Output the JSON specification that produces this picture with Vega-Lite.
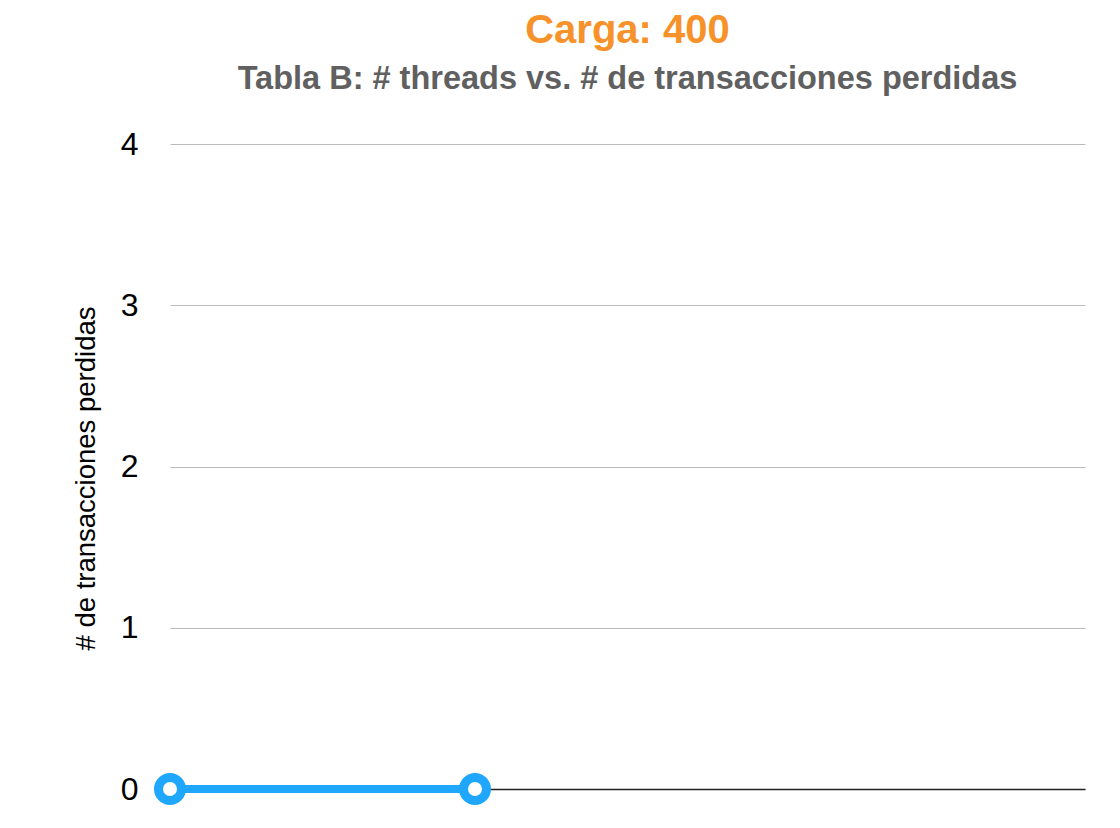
{
  "$schema": "https://vega.github.io/schema/vega-lite/v6.json",
  "width": 915,
  "height": 645,
  "autosize": {"type": "none"},
  "padding": {"left": 170, "top": 144, "right": 35, "bottom": 39},
  "background": "white",
  "title": {
    "text": "Carga: 400",
    "subtitle": "Tabla B: # threads vs. # de transacciones perdidas",
    "anchor": "middle",
    "font": "Liberation Sans",
    "fontSize": 40,
    "fontWeight": "bold",
    "color": "#F7922A",
    "subtitleFont": "Liberation Sans",
    "subtitleFontSize": 32.5,
    "subtitleFontWeight": "bold",
    "subtitleColor": "#606060",
    "subtitlePadding": 12,
    "offset": 33
  },
  "config": {
    "view": {"stroke": null},
    "font": "Liberation Sans"
  },
  "data": {
    "values": [
      {"threads": 1, "perdidas": 0},
      {"threads": 2, "perdidas": 0}
    ]
  },
  "layer": [
    {
      "mark": {"type": "line", "color": "#1EA7FD", "strokeWidth": 8},
      "encoding": {
        "x": {
          "field": "threads",
          "type": "quantitative",
          "scale": {"domain": [1, 4], "nice": false, "zero": false},
          "axis": {"title": null, "labels": false, "ticks": false, "grid": false, "domain": true, "domainColor": "#222222", "domainWidth": 1.5}
        },
        "y": {
          "field": "perdidas",
          "type": "quantitative",
          "scale": {"domain": [0, 4], "nice": false},
          "axis": {
            "title": "# de transacciones perdidas",
            "titleFont": "Liberation Sans",
            "titleFontSize": 27.5,
            "titleFontWeight": "normal",
            "titleColor": "#000000",
            "titlePadding": 20,
            "titleY": 334,
            "values": [0, 1, 2, 3, 4],
            "format": "d",
            "labelFont": "Liberation Sans",
            "labelFontSize": 32,
            "labelColor": "#000000",
            "labelPadding": 32,
            "ticks": false,
            "domain": false,
            "grid": true,
            "gridColor": "#BBBBBB",
            "gridWidth": 1.2
          }
        }
      }
    },
    {
      "mark": {"type": "point", "shape": "circle", "filled": true, "fill": "white", "stroke": "#1EA7FD", "strokeWidth": 9, "size": 530, "opacity": 1},
      "encoding": {
        "x": {"field": "threads", "type": "quantitative"},
        "y": {"field": "perdidas", "type": "quantitative"}
      }
    }
  ]
}
